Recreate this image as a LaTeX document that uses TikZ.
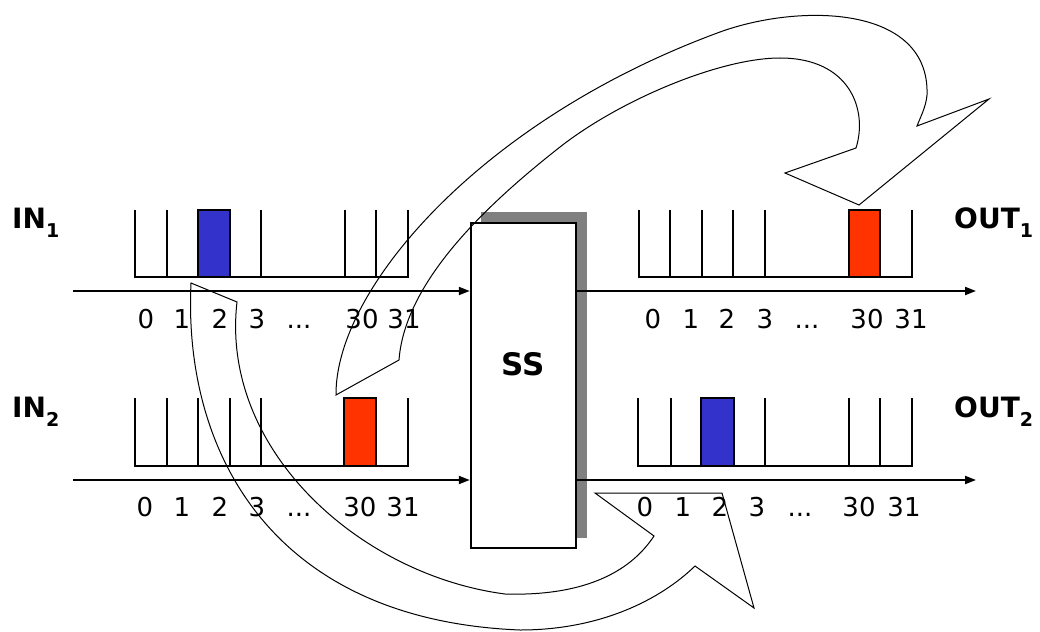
\documentclass[tikz,border=0pt]{standalone}
\usepackage{fontspec}
\setmainfont{DejaVu Sans}
\usetikzlibrary{arrows.meta}
\definecolor{slotblue}{RGB}{51,51,204}
\definecolor{slotred}{RGB}{255,51,0}
\definecolor{shadowgray}{RGB}{128,128,128}
\tikzset{
  bufline/.style={line width=1.3pt, black},
  axisline/.style={line width=2pt, -{Triangle[length=11pt,width=8pt]}},
  num/.style={anchor=base, font=\fontsize{26}{26}\selectfont, inner sep=0pt},
  portlabel/.style={inner sep=0pt, anchor=base west, font=\fontsize{28}{28}\selectfont\bfseries},
  curvarrow/.style={line width=1pt, line join=miter},
  bluecell/.style={fill=slotblue, draw=black, line width=1.3pt},
  redcell/.style={fill=slotred, draw=black, line width=1.3pt},
  switchbox/.style={draw=black, fill=white, line width=2.5pt, minimum width=105pt, minimum height=325pt, inner sep=0pt},
}
\newcommand{\subidx}[1]{\raisebox{-9pt}{\fontsize{19}{19}\selectfont #1}}
\newcommand{\threedots}{.\kern0pt.\kern0pt.}
\begin{document}
\begin{tikzpicture}[x=1pt,y=-1pt]
\useasboundingbox (0,0) rectangle (1040,631);
\begin{scope}
\clip (0,0) rectangle (1040,631);

% switch box with shadow
\fill[shadowgray] (481,212) rectangle (587,538);
\node[switchbox] (ss) at (523.5,385.5) {};
\node[font=\fontsize{31}{31}\selectfont\bfseries, inner sep=0pt] (sslabel) at (523,364) {SS};

% port labels
\node[portlabel] (in1) at (12,228) {IN\subidx{1}};
\node[portlabel] (in2) at (12,417) {IN\subidx{2}};
\node[portlabel] (out1) at (954,228) {OUT\subidx{1}};
\node[portlabel] (out2) at (954,417) {OUT\subidx{2}};

% axes
\coordinate (a1s) at (73,291);
\coordinate (a2s) at (73,480);
\coordinate (o1e) at (976,291);
\coordinate (o2e) at (976,480);
\draw[axisline] (a1s) -- (a1s -| ss.west);
\draw[axisline] (a2s) -- (a2s -| ss.west);
\draw[axisline] (o1e -| ss.east) -- (o1e);
\draw[axisline] (o2e -| ss.east) -- (o2e);

% IN1 buffer
\draw[bluecell] (198,210) rectangle (230,277);
\draw[bufline] (135,210) -- (135,277) -- (408,277) -- (408,210);
\foreach \x in {167,198,230,261,345,376} \draw[bufline] (\x,210) -- (\x,277);

% IN2 buffer
\draw[redcell] (344,398) rectangle (376,466);
\draw[bufline] (135,398) -- (135,466) -- (408,466) -- (408,398);
\foreach \x in {167,198,230,261,344} \draw[bufline] (\x,398) -- (\x,466);
\draw[line width=2.2pt] (376,398) -- (376,466);

% OUT1 buffer
\draw[redcell] (849,210) rectangle (880,277);
\draw[bufline] (639,210) -- (639,277) -- (912,277) -- (912,210);
\foreach \x in {670,702,733,765,849,880} \draw[bufline] (\x,210) -- (\x,277);

% OUT2 buffer
\draw[bluecell] (701,398) rectangle (734,466);
\draw[bufline] (638,398) -- (638,466) -- (912,466) -- (912,398);
\foreach \x in {671,701,734,765,849,880} \draw[bufline] (\x,398) -- (\x,466);

% slot numbers
\foreach \x/\t/\n in {146/0/a,182/1/b,220/2/c,257/3/d,299/\threedots/e,362/30/f,404/31/g}
  \node[num] (inA\n) at (\x,328) {\t};
\foreach \x/\t/\n in {145/0/a,182/1/b,220/2/c,257/3/d,299/\threedots/e,360/30/f,403/31/g}
  \node[num] (inB\n) at (\x,516) {\t};
\foreach \x/\t/\n in {653/0/a,691/1/b,727/2/c,765/3/d,807/\threedots/e,867/30/f,911/31/g}
  \node[num] (outA\n) at (\x,328) {\t};
\foreach \x/\t/\n in {645/0/a,683/1/b,720/2/c,757/3/d,800/\threedots/e,859/30/f,904/31/g}
  \node[num] (outB\n) at (\x,516) {\t};

% curved arrow: IN2 slot 30 -> OUT1 slot 30
\draw[curvarrow] (336,395) .. controls (335,290) and (480,120) .. (720,32)
  .. controls (800,3) and (930,5) .. (927,95)
  .. controls (926,107) and (920,118) .. (917,126)
  -- (989,99) -- (859,205) -- (785,173) -- (856,148)
  .. controls (868,110) and (850,58) .. (780,58)
  .. controls (720,58) and (620,100) .. (560,147)
  .. controls (490,202) and (405,280) .. (399,360)
  -- cycle;

% curved arrow: IN1 slot 2 -> OUT2 slot 2
\draw[curvarrow] (191,283) .. controls (183,450) and (270,620) .. (520,630)
  .. controls (600,630) and (660,600) .. (695,566)
  -- (754,608) -- (722,493) -- (595,493) -- (654,536)
  .. controls (625,580) and (570,596) .. (505,594)
  .. controls (360,575) and (220,450) .. (237,302)
  -- cycle;
\end{scope}
\end{tikzpicture}
\end{document}
